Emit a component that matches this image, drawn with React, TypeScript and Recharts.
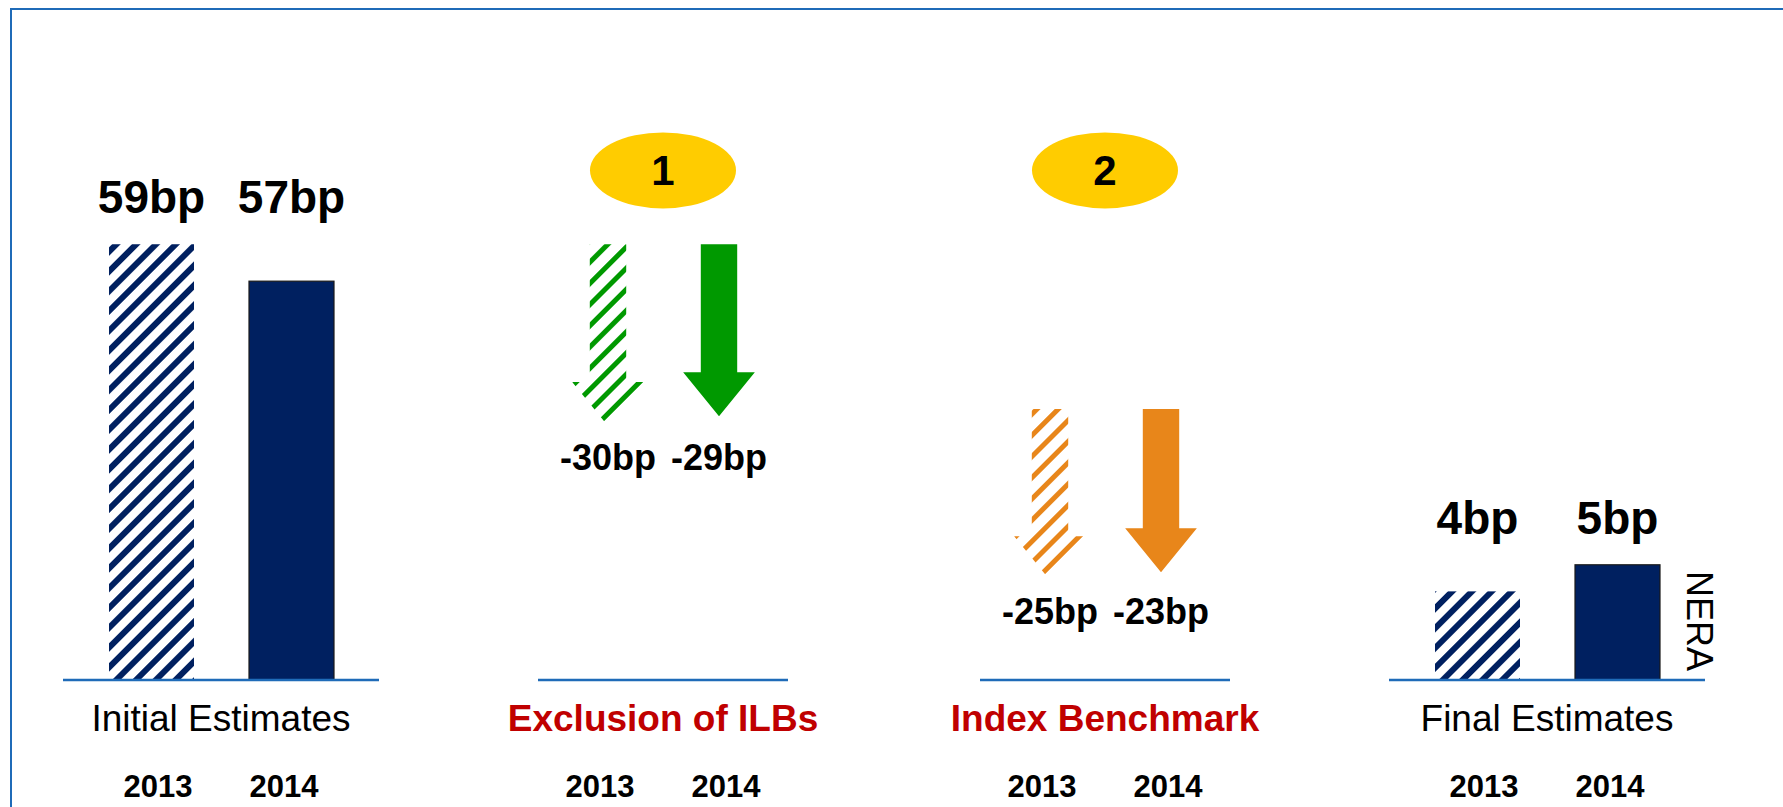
import { Bar, BarChart, ReferenceDot, XAxis, YAxis } from "recharts"

const categories = ["Initial Estimates", "Exclusion of ILBs", "Index Benchmark", "Final Estimates"]
// "level" = bars standing on the baseline, "change" = arrows
const categoryKinds = ["level", "change", "change", "level"]
const years = ["2013", "2014"]

// numbers printed on the slide (bp)
const printed2013 = [59, -30, -25, 4]
const printed2014 = [57, -29, -23, 5]

// extents as drawn on the slide, [bottom, top] in bp measured against the 59bp bar
const drawn2013: [number, number][] = [[0, 59], [34.4, 59], [13.5, 36.7], [0, 12]]
const drawn2014: [number, number][] = [[0, 54], [35.7, 59], [14.6, 36.7], [0, 15.6]]

// the numbered step badges above the two adjustments
const stepBadges = ["", "1", "2", ""]
const badgeLevel = 69

const FONT = "'Liberation Sans', Arial, Helvetica, sans-serif"
const NAVY = "#002060"
const LINE_BLUE = "#1f6bb8"

const changeColours: Record<string, string> = {
  "Exclusion of ILBs": "#009900",
  "Index Benchmark": "#E8861A",
}

const rows = categories.map((category, i) => {
  const kind = categoryKinds[i]
  const a = drawn2013[i]
  const b = drawn2014[i]
  return {
    category,
    kind,
    block2013: kind === "level" ? a : null,
    block2014: kind === "level" ? b : null,
    arrow2013: kind === "change" ? a : null,
    arrow2014: kind === "change" ? b : null,
    label2013: printed2013[i],
    label2014: printed2014[i],
    topLevel: Math.max(a[1], b[1]),
    tipLevel: Math.min(a[0], b[0]),
  }
})

const makeBlock = (year: string) => (p: any) => {
  const range = p.payload[`block${year}`]
  if (!range) return <g />
  const top = Math.min(p.y, p.y + p.height)
  const h = Math.abs(p.height)
  const bottom = top + h
  const ppu = h / (range[1] - range[0])
  const labelY = bottom - (p.payload.topLevel - range[0]) * ppu - 31
  const cx = p.x + p.width / 2
  const hatched = year === "2013"
  return (
    <g>
      <rect
        x={p.x}
        y={top}
        width={p.width}
        height={h}
        fill={hatched ? "url(#hatchNavy)" : NAVY}
        stroke={hatched ? "none" : "#1a1a1a"}
        strokeWidth={hatched ? 0 : 1.2}
      />
      <text x={cx} y={labelY} textAnchor="middle" fontFamily={FONT} fontSize={46} fontWeight={700} fill="#000">
        {`${p.payload[`label${year}`]}bp`}
      </text>
    </g>
  )
}

const makeArrow = (year: string) => (p: any) => {
  const range = p.payload[`arrow${year}`]
  if (!range) return <g />
  const top = Math.min(p.y, p.y + p.height)
  const h = Math.abs(p.height)
  const bottom = top + h
  const ppu = h / (range[1] - range[0])
  const cx = p.x + p.width / 2
  const shaft = p.width * 0.65
  const head = p.width * 1.28
  const neck = bottom - 44
  const colour = changeColours[p.payload.category]
  const hatchId = p.payload.category === "Exclusion of ILBs" ? "hatchGreen" : "hatchOrange"
  const d = `M${cx - shaft / 2},${top} H${cx + shaft / 2} V${neck} H${cx + head / 2} L${cx},${bottom} L${cx - head / 2},${neck} H${cx - shaft / 2} Z`
  const labelY = bottom + (range[0] - p.payload.tipLevel) * ppu + 44
  return (
    <g>
      <path d={d} fill={year === "2013" ? `url(#${hatchId})` : colour} />
      <text x={cx} y={labelY} textAnchor="middle" fontFamily={FONT} fontSize={36} fontWeight={700} fill="#000">
        {`${p.payload[`label${year}`]}bp`}
      </text>
    </g>
  )
}

function CategoryTick(props: any) {
  const { x, y, payload } = props
  const i = categories.indexOf(payload.value)
  const change = categoryKinds[i] === "change"
  const half = change ? 125 : 158
  return (
    <g>
      <line x1={x - half} x2={x + half} y1={y} y2={y} stroke={LINE_BLUE} strokeWidth={2.5} />
      <text
        x={x}
        y={y + 51}
        textAnchor="middle"
        fontFamily={FONT}
        fontSize={37}
        fontWeight={change ? 700 : 400}
        fill={change ? "#C00000" : "#000"}
      >
        {payload.value}
      </text>
      {years.map((yr, j) => (
        <text
          key={yr}
          x={x + (j === 0 ? -63 : 63)}
          y={y + 117}
          textAnchor="middle"
          fontFamily={FONT}
          fontSize={31}
          fontWeight={700}
          fill="#000"
        >
          {yr}
        </text>
      ))}
    </g>
  )
}

export default function App() {
  return (
    <div style={{ position: "absolute", left: 0, top: 0, width: 1783, height: 807, overflow: "hidden", background: "#fff" }}>
      <div
        style={{
          position: "absolute",
          left: 10,
          top: 8,
          width: 1800,
          height: 820,
          borderLeft: `2px solid ${LINE_BLUE}`,
          borderTop: `2px solid ${LINE_BLUE}`,
        }}
      />
      <div style={{ position: "absolute", left: 0, top: 0 }}>
        <BarChart width={1783} height={807} data={rows} margin={{ top: 163, right: 15, bottom: 7, left: 0 }} barGap={55}>
          <defs>
            <pattern id="hatchNavy" width="14" height="14" patternUnits="userSpaceOnUse" patternTransform="rotate(45)">
              <rect width="14" height="14" fill="#fff" />
              <rect width="6" height="14" fill={NAVY} />
            </pattern>
            <pattern id="hatchGreen" width="15" height="15" patternUnits="userSpaceOnUse" patternTransform="rotate(45)">
              <rect width="15" height="15" fill="#fff" />
              <rect width="5" height="15" fill="#009900" />
            </pattern>
            <pattern id="hatchOrange" width="15" height="15" patternUnits="userSpaceOnUse" patternTransform="rotate(45)">
              <rect width="15" height="15" fill="#fff" />
              <rect width="5" height="15" fill="#E8861A" />
            </pattern>
          </defs>
          <XAxis
            xAxisId="main"
            dataKey="category"
            height={120}
            axisLine={false}
            tickLine={false}
            tickSize={0}
            tickMargin={0}
            interval={0}
            tick={(p: any) => <CategoryTick {...p} />}
          />
          <XAxis xAxisId="arrows" dataKey="category" hide height={0} />
          <YAxis hide domain={[0, 70]} type="number" />
          <Bar xAxisId="main" dataKey="block2013" barSize={85} shape={makeBlock("2013")} isAnimationActive={false} />
          <Bar xAxisId="main" dataKey="block2014" barSize={85} shape={makeBlock("2014")} isAnimationActive={false} />
          <Bar xAxisId="arrows" dataKey="arrow2013" barSize={56} shape={makeArrow("2013")} isAnimationActive={false} />
          <Bar xAxisId="arrows" dataKey="arrow2014" barSize={56} shape={makeArrow("2014")} isAnimationActive={false} />
          {categories.map((c, i) =>
            stepBadges[i] ? (
              <ReferenceDot
                key={c}
                xAxisId="main"
                x={c}
                y={badgeLevel}
                shape={(p: any) => (
                  <g>
                    <ellipse cx={p.cx} cy={p.cy} rx={73} ry={38} fill="#FFCC00" />
                    <text x={p.cx} y={p.cy + 15} textAnchor="middle" fontFamily={FONT} fontSize={42} fontWeight={700} fill="#000">
                      {stepBadges[i]}
                    </text>
                  </g>
                )}
              />
            ) : null
          )}
        </BarChart>
      </div>
      <svg width={1783} height={807} style={{ position: "absolute", left: 0, top: 0, pointerEvents: "none" }}>
        <text transform="translate(1687,571) rotate(90)" fontFamily={FONT} fontSize={36} fill="#000">
          NERA
        </text>
      </svg>
    </div>
  )
}
